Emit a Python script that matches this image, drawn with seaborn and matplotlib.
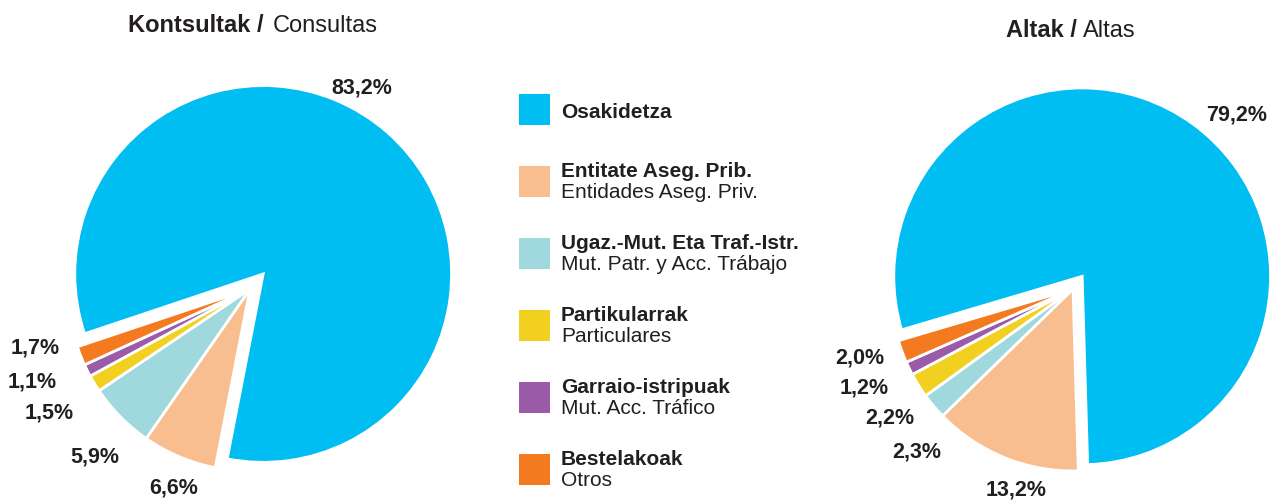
import matplotlib
matplotlib.use("Agg")
import matplotlib.pyplot as plt
from matplotlib.patches import Rectangle
import seaborn as sns

sns.set_style("white")
plt.rcParams['font.family'] = ['Liberation Sans', 'DejaVu Sans']

# datos
cat_eu = ["Osakidetza", "Entitate Aseg. Prib.", "Ugaz.-Mut. Eta Traf.-Istr.",
          "Partikularrak", "Garraio-istripuak", "Bestelakoak"]
cat_es = ["", "Entidades Aseg. Priv.", "Mut. Patr. y Acc. Trábajo",
          "Particulares", "Mut. Acc. Tráfico", "Otros"]
consultas = [83.2, 6.6, 5.9, 1.5, 1.1, 1.7]
altas = [79.2, 13.2, 2.3, 2.2, 1.2, 2.0]

colors = ["#00BDF2", "#F9BE8F", "#9FD8DD", "#F2D01F", "#9B5BA8", "#F47A20"]
txt_color = "#231F20"

# posiciones de las etiquetas (en radios del pie)
pos_consultas = [(0.615, 1.110), (-0.418, -1.088), (-0.852, -0.918),
                 (-1.104, -0.676), (-1.198, -0.505), (-1.181, -0.319)]
pos_altas = [(0.901, 0.962), (-0.313, -1.099), (-0.857, -0.890),
             (-1.005, -0.703), (-1.148, -0.538), (-1.170, -0.374)]

W, H = 1275, 502
R = 182.0  # px por unidad de radio
fig = plt.figure(figsize=(W / 100, H / 100), dpi=100)


def pie_axes(x0, x1, cx, cy):
    # cx, cy: centro del pie en px (y desde arriba)
    ax = fig.add_axes([x0 / W, 0, (x1 - x0) / W, 1])
    return ax, (x0 - cx) / R, (x1 - cx) / R, -(H - cy) / R, cy / R


def draw_pie(box, values, start, expl, positions):
    ax, xa, xb, ya, yb = box
    wedges, _ = ax.pie(values, colors=colors, startangle=start, counterclock=False,
                       explode=[expl, 0, 0, 0, 0, 0],
                       wedgeprops=dict(edgecolor="white", linewidth=2))
    # la porción grande es algo mayor en el original
    wedges[0].set_radius(1.035)
    for v, (px, py) in zip(values, positions):
        ax.text(px, py, f"{v:.1f}".replace(".", ",") + "%", ha="center",
                va="center", fontsize=15.5, fontweight="bold", color=txt_color)
    ax.set_xlim(xa, xb)
    ax.set_ylim(ya, yb)
    ax.set_aspect("auto")
    ax.axis("off")


draw_pie(pie_axes(0, 500, 250, 290), consultas, 198.5, 0.11, pos_consultas)
draw_pie(pie_axes(780, 1275, 1073, 290), altas, 196.5, 0.086, pos_altas)

# titulos
fig.text(264 / W, 1 - 32 / H, "Kontsultak /", ha="right", va="baseline",
         fontsize=17, fontweight="bold", color=txt_color)
fig.text(273 / W, 1 - 32 / H, "Consultas", ha="left", va="baseline",
         fontsize=17, color=txt_color)
fig.text(1077 / W, 1 - 37 / H, "Altak /", ha="right", va="baseline",
         fontsize=17, fontweight="bold", color=txt_color)
fig.text(1083 / W, 1 - 37 / H, "Altas", ha="left", va="baseline",
         fontsize=17, color=txt_color)

# leyenda
lax = fig.add_axes([500 / W, 0, 300 / W, 1])
lax.set_xlim(500, 800)
lax.set_ylim(H, 0)
lax.axis("off")
for i, (eu, es, c) in enumerate(zip(cat_eu, cat_es, colors)):
    top = 95 + i * 72
    lax.add_patch(Rectangle((519, top), 31, 31, facecolor=c, edgecolor="none"))
    mid = top + 15.5
    if es:
        lax.text(561, mid - 5, eu, fontsize=15, fontweight="bold",
                 va="baseline", color=txt_color)
        lax.text(561, mid + 16, es, fontsize=15, va="baseline", color=txt_color)
    else:
        lax.text(561, mid + 7.5, eu, fontsize=15, fontweight="bold",
                 va="baseline", color=txt_color)

fig.savefig("out.png", dpi=100)
